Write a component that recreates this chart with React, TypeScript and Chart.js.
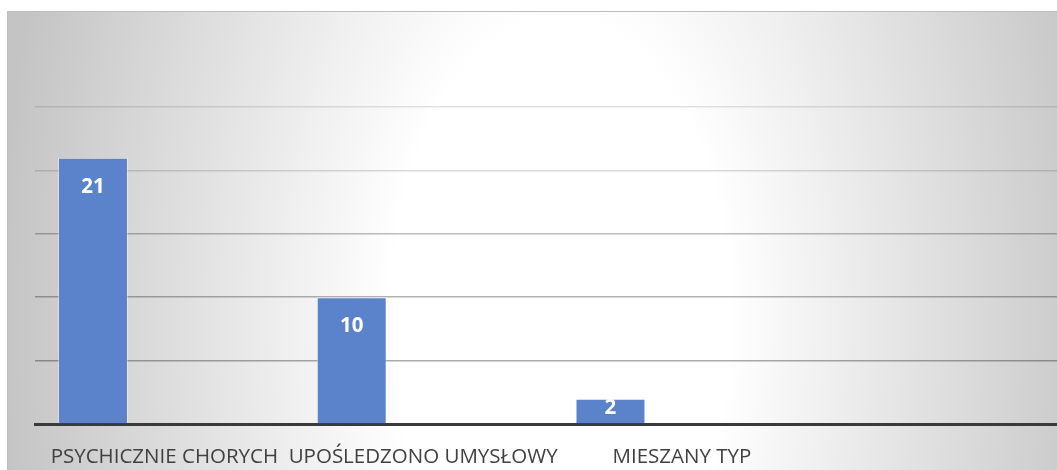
import React, { useEffect, useRef } from "react";
import { Chart, registerables } from "chart.js";

Chart.register(...registerables);

// ---- data ----
const categories = ["PSYCHICZNIE CHORYCH", "UPOŚLEDZONO UMYSŁOWY", "MIESZANY TYP", ""];
const series1Values = [21, 10, 2, null];
const series2Values = [null, null, null, null];
const series3Values = [null, null, null, null];
const yMin = 0;
const yMax = 25;
const yStep = 5;

// ---- styles ----
const BAR_COLOR = "#5a83cb";
const FONT = "'Open Sans', 'Noto Sans', sans-serif";

const gridAlpha: Record<number, number> = { 0: 0, 5: 0.33, 10: 0.3, 15: 0.26, 20: 0.14, 25: 0.11 };

const valueLabels = {
  id: "valueLabels",
  afterDatasetsDraw(chart: any) {
    const ctx = chart.ctx;
    const meta = chart.getDatasetMeta(0);
    const data = chart.data.datasets[0].data;
    ctx.save();
    ctx.fillStyle = "#ffffff";
    ctx.font = `bold 20.5px ${FONT}`;
    ctx.textAlign = "center";
    ctx.textBaseline = "middle";
    meta.data.forEach((el: any, i: number) => {
      const v = data[i];
      if (v === null || v === undefined) return;
      const props = el.getProps(["x", "y", "base"], true);
      const y = Math.min(props.y + 29, (props.y + props.base) / 2 - 2.5);
      ctx.fillText(String(v), props.x, y);
    });
    ctx.restore();
  },
};

export default function App() {
  const ref = useRef<HTMLCanvasElement>(null);

  useEffect(() => {
    const canvas = ref.current;
    if (!canvas) return;
    const chart = new Chart(canvas, {
      type: "bar",
      data: {
        labels: categories,
        datasets: [
          {
            label: "Seria 1",
            data: series1Values,
            backgroundColor: BAR_COLOR,
            borderColor: "rgba(255,255,255,0.45)",
            borderWidth: 1,
          },
          { label: "Seria 2", data: series2Values, backgroundColor: BAR_COLOR },
          { label: "Seria 3", data: series3Values, backgroundColor: BAR_COLOR },
        ],
      },
      options: {
        responsive: false,
        maintainAspectRatio: false,
        animation: false,
        layout: { padding: { left: 27, top: 95, right: 18, bottom: 0 } },
        datasets: { bar: { barPercentage: 0.98, categoryPercentage: 0.828 } },
        plugins: {
          legend: { display: false },
          tooltip: { enabled: false },
          title: { display: false },
        },
        scales: {
          x: {
            grid: { display: false, drawTicks: false },
            border: { display: true, color: "#3a3a3a", width: 3 },
            ticks: {
              autoSkip: false,
              maxRotation: 0,
              minRotation: 0,
              padding: 21,
              color: "#404040",
              font: { family: FONT, size: 20.5 },
            },
            afterFit: (s: any) => {
              s.height = 58;
            },
          },
          y: {
            min: yMin,
            max: yMax,
            ticks: { display: false, stepSize: yStep },
            border: { display: false },
            grid: {
              drawTicks: false,
              lineWidth: 1.5,
              color: (c: any) => `rgba(0,0,0,${gridAlpha[c.tick?.value] ?? 0.2})`,
            },
            afterFit: (s: any) => {
              s.width = 0;
            },
          },
        },
      },
      plugins: [valueLabels],
    } as any);
    return () => chart.destroy();
  }, []);

  return (
    <div
      style={{
        position: "fixed",
        left: 0,
        top: 0,
        width: 1057,
        height: 470,
        overflow: "hidden",
        background: "#ffffff",
      }}
    >
      <div
        style={{
          position: "absolute",
          left: 7,
          top: 11,
          width: 1080,
          height: 480,
          borderTop: "1px solid #bdbdbd",
          borderLeft: "1px solid #bdbdbd",
          background:
            "radial-gradient(560px 1000px at 552px 308px, #ffffff 30%, #c4c4c4 100%)",
        }}
      >
        <canvas
          ref={ref}
          width={1080}
          height={470}
          style={{ position: "absolute", left: 0, top: 0, width: 1080, height: 470 }}
        />
      </div>
    </div>
  );
}
